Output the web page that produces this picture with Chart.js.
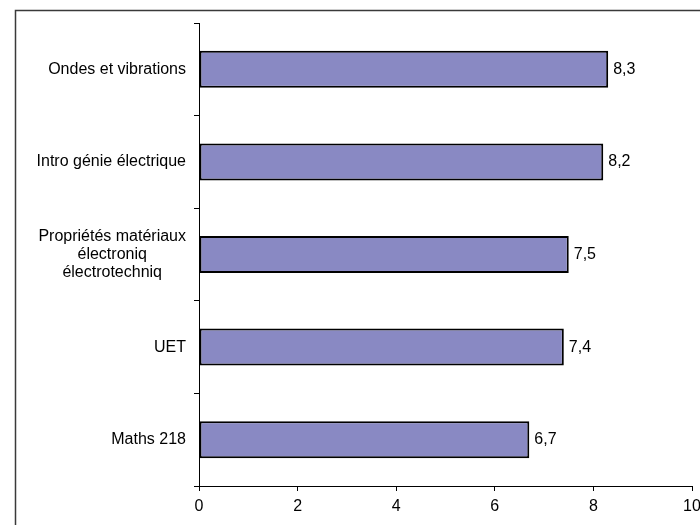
<!DOCTYPE html>
<html>
<head>
<meta charset="utf-8">
<script src="https://cdn.jsdelivr.net/npm/chart.js@4/dist/chart.umd.min.js"></script>
<style>
  html, body { margin: 0; padding: 0; background: #fff; }
  canvas { display: block; }
</style>
</head>
<body>
<canvas id="chart" width="700" height="525"></canvas>
<script>
'use strict';

// data
var categories = [
	'Ondes et vibrations',
	'Intro génie électrique',
	['Propriétés matériaux', 'électroniq', 'électrotechniq'],
	'UET',
	'Maths 218'
];
var notes = [8.3, 8.2, 7.5, 7.4, 6.7];
var xTicks = [0, 2, 4, 6, 8, 10];

var FONT = 'Arial, "Liberation Sans", sans-serif';
Chart.defaults.font.family = FONT;
Chart.defaults.font.size = 16;
Chart.defaults.color = '#000';

function fmt(v) {
	return v.toFixed(1).replace('.', ',');
}

// outer frame, cut by the right and bottom edges like the original
var framePlugin = {
	id: 'frame',
	beforeDraw: function (chart) {
		var ctx = chart.ctx;
		ctx.save();
		ctx.strokeStyle = '#3a3a3a';
		ctx.lineWidth = 1.5;
		ctx.strokeRect(15.5, 10.5, 900, 900);
		ctx.restore();
	}
};

// value labels at the end of each bar
var valuePlugin = {
	id: 'values',
	afterDatasetsDraw: function (chart) {
		var ctx = chart.ctx;
		var meta = chart.getDatasetMeta(0);
		ctx.save();
		ctx.font = '16px ' + FONT;
		ctx.fillStyle = '#000';
		ctx.textAlign = 'left';
		ctx.textBaseline = 'middle';
		meta.data.forEach(function (bar, i) {
			ctx.fillText(fmt(notes[i]), bar.x + 5, bar.y);
		});
		ctx.restore();
	}
};

// multi-line category labels: lines centred on each other, block right aligned
var multiLabelPlugin = {
	id: 'multiLabel',
	afterDraw: function (chart) {
		var ctx = chart.ctx;
		var y = chart.scales.y;
		ctx.save();
		ctx.font = '16px ' + FONT;
		ctx.fillStyle = '#000';
		ctx.textAlign = 'center';
		ctx.textBaseline = 'middle';
		categories.forEach(function (c, i) {
			if (!Array.isArray(c)) return;
			var widest = 0;
			c.forEach(function (line) { widest = Math.max(widest, ctx.measureText(line).width); });
			var right = y.right - 5 - 8;
			var cx = right - widest / 2;
			var lh = 18;
			var cy = y.getPixelForValue(i) - (c.length - 1) * lh / 2;
			c.forEach(function (line, k) {
				ctx.fillText(line, cx, cy + k * lh);
			});
		});
		ctx.restore();
	}
};

var myChart = new Chart(document.getElementById('chart'), {
	type: 'bar',
	data: {
		labels: categories,
		datasets: [{
			data: notes,
			backgroundColor: '#8989C3',
			borderColor: '#000',
			borderWidth: 2,
			borderSkipped: false,
			categoryPercentage: 0.8,
			barPercentage: 0.5
		}]
	},
	options: {
		indexAxis: 'y',
		responsive: false,
		animation: false,
		devicePixelRatio: 1,
		layout: { padding: { top: 23, right: 8, left: 0, bottom: 0 } },
		plugins: {
			legend: { display: false },
			tooltip: { enabled: false },
			title: { display: false }
		},
		scales: {
			x: {
				type: 'linear',
				min: 0,
				max: 10,
				afterBuildTicks: function (scale) {
					scale.ticks = xTicks.map(function (v) { return { value: v }; });
				},
				ticks: { padding: 6, color: '#000', font: { size: 16 } },
				grid: { drawOnChartArea: false, tickLength: 5, color: '#000' },
				border: { display: true, color: '#000', width: 1 },
				afterFit: function (scale) {
					scale.height = 39;
					scale.paddingLeft = 0;
					scale.paddingRight = 0;
				}
			},
			y: {
				type: 'category',
				offset: true,
				ticks: {
					padding: 8,
					color: '#000',
					font: { size: 16 },
					callback: function (v, i) {
						var c = categories[i];
						return Array.isArray(c) ? '' : c;
					}
				},
				grid: { offset: true, drawOnChartArea: false, tickLength: 5, color: '#000' },
				border: { display: true, color: '#000', width: 1 },
				afterFit: function (scale) {
					scale.width = 199;
					scale.paddingTop = 0;
					scale.paddingBottom = 0;
				}
			}
		}
	},
	plugins: [framePlugin, valuePlugin, multiLabelPlugin]
});
</script>
</body>
</html>
